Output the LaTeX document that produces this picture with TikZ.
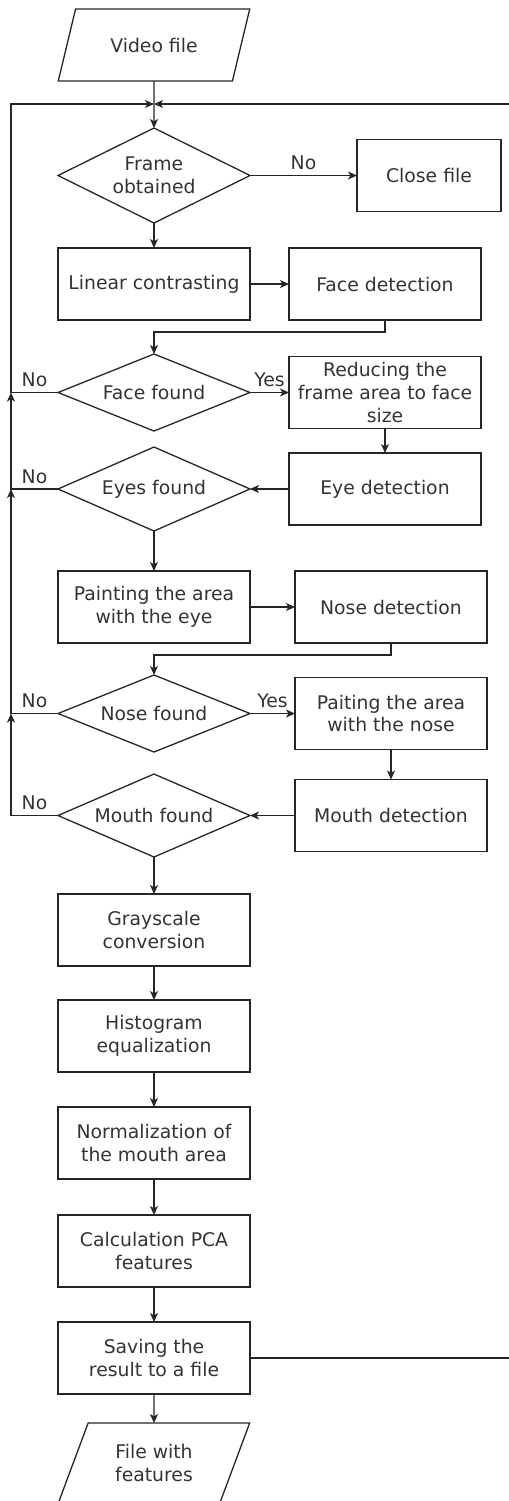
\documentclass[tikz,border=0pt]{standalone}
\usepackage{fontspec}
\setmainfont{DejaVu Sans}
\usepackage{tikz}
\tikzset{
     arrow/.style={-{Stealth[length=4.5pt,width=4pt,inset=1.2pt]}},
     process/.style={rectangle,draw,align=center,minimum width=96pt,minimum height=36pt,inner sep=2pt,outer sep=0pt},
     decision/.style={diamond,draw,align=center,aspect=2.4,minimum width=96pt,minimum height=40pt,inner sep=0pt,outer sep=0pt},
     io/.style={trapezium,draw,align=center,trapezium left angle=61.5,trapezium right angle=118.5,trapezium stretches=true,minimum width=96pt,minimum height=36pt,inner sep=1pt,outer sep=0pt},
     lbl/.style={inner sep=2.5pt}
     }
\usetikzlibrary{positioning,arrows.meta}
\usetikzlibrary{shapes.geometric}

\begin{document}
\begin{tikzpicture}[line width=0.65pt,draw=black!85,text=black!80,font=\fontsize{9.4pt}{11.3pt}\selectfont]
            \useasboundingbox (0pt,0pt) rectangle (254.5pt,-750.5pt);
            % Place nodes
            \node[io] (video) at (77pt,-22.5pt) {Video file};
            \node[decision,minimum height=47.5pt] [below=23.5pt of video] (frame) {Frame\\obtained};
            \node[process,minimum width=72pt] [right=53.5pt of frame] (close) {Close file};
            \node[process] [below=12.5pt of frame] (linear) {Linear contrasting};
            \node[process] [right=19.5pt of linear] (facedet) {Face detection};
            \node[decision,minimum height=38.5pt] [below=17pt of linear] (face) {Face found};
            \node[process] [right=19.5pt of face] (reduce) {Reducing the\\frame area to face\\size};
            \node[decision,minimum height=42pt] [below=8pt of face] (eyes) {Eyes found};
            \node[process] [right=19.5pt of eyes] (eyedet) {Eye detection};
            \node[process] [below=20pt of eyes] (painteye) {Painting the area\\with the eye};
            \node[process] [right=22.5pt of painteye] (nosedet) {Nose detection};
            \node[decision,minimum height=38.5pt] [below=16pt of painteye] (nose) {Nose found};
            \node[process] [right=22.5pt of nose] (paintnose) {Paiting the area\\with the nose};
            \node[decision,minimum height=41.5pt] [below=11pt of nose] (mouth) {Mouth found};
            \node[process] [right=22.5pt of mouth] (mouthdet) {Mouth detection};
            \node[process] [below=18.5pt of mouth] (gray) {Grayscale\\conversion};
            \node[process] [below=17pt of gray] (hist) {Histogram\\equalization};
            \node[process] [below=17.5pt of hist] (norm) {Normalization of\\the mouth area};
            \node[process] [below=18pt of norm] (pca) {Calculation PCA\\features};
            \node[process] [below=17.5pt of pca] (save) {Saving the\\result to a file};
            \node[io,minimum height=40pt,trapezium left angle=65.8,trapezium right angle=114.2] [below=14.5pt of save] (result) {File with\\features};
            % Loop points
            \coordinate (join) at (77pt,-52pt);
            \coordinate (loopL) at (5.5pt,-52pt);
            \coordinate (loopR) at (255pt,-52pt);
            % Draw edges
            \path[arrow] (video) edge (frame);
            \path[arrow] (frame) edge node [lbl,above] {No} (close);
            \path[arrow] (frame) edge (linear);
            \path[arrow] (linear) edge (facedet);
            \draw[arrow] (facedet.south) -- ++(0,-6pt) -| (face.north);
            \path[arrow] (face) edge node [lbl,above] {Yes} (reduce);
            \path[arrow] (reduce) edge (eyedet);
            \path[arrow] (eyedet) edge (eyes);
            \path[arrow] (eyes) edge (painteye);
            \path[arrow] (painteye) edge (nosedet);
            \draw[arrow] (nosedet.south) -- ++(0,-6pt) -| (nose.north);
            \path[arrow] (nose) edge node [lbl,above] {Yes} (paintnose);
            \path[arrow] (paintnose) edge (mouthdet);
            \path[arrow] (mouthdet) edge (mouth);
            \path[arrow] (mouth) edge (gray);
            \path[arrow] (gray) edge (hist);
            \path[arrow] (hist) edge (norm);
            \path[arrow] (norm) edge (pca);
            \path[arrow] (pca) edge (save);
            \path[arrow] (save) edge (result);
            % Back to the next frame
            \draw[arrow] (face.west) -- node [lbl,above] {No} (face.west -| loopL) -- (loopL) -- (join);
            \draw[arrow] (eyes.west) -- node [lbl,above] {No} (eyes.west -| loopL) -- (face.west -| loopL);
            \draw[arrow] (nose.west) -- node [lbl,above] {No} (nose.west -| loopL) -- (eyes.west -| loopL);
            \draw[arrow] (mouth.west) -- node [lbl,above] {No} (mouth.west -| loopL) -- (nose.west -| loopL);
            \draw[arrow] (save.east) -- (save.east -| loopR) -- (loopR) -- (join);
        \end{tikzpicture}
\end{document}
